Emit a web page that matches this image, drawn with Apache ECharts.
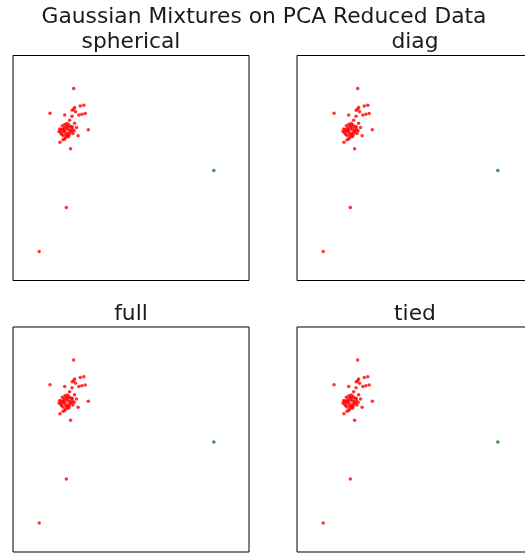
<!DOCTYPE html>
<html>
<head>
<meta charset="utf-8">
<script src="https://cdn.jsdelivr.net/npm/echarts@6/dist/echarts.min.js"></script>
<style>
  html, body { margin: 0; padding: 0; background: #fff; }
  #main { width: 525px; height: 554px; }
</style>
</head>
<body>
<div id="main"></div>
<script>
// PCA reduced points (first two components) and predicted component
var pc1 = [0.57, 1.00, 0.85, 0.61, 0.57, 0.51, 0.65, -0.43, 0.19, 0.79, 0.92, 1.06, 0.50, 0.40, 0.61, 0.69, 1.19, 0.76, -0.01, 0.12, 0.19, 0.35, 0.44, 0.26, -0.89, 6.51,
  0.09, 0.20, 0.30, 0.37, 0.45, 0.52, 0.59, -0.05, 0.02, 0.06, 0.12, 0.23, 0.31, 0.40, 0.48, 0.16, 0.26, 0.34, 0.43, 0.20, 0.09, 0.02, 0.26, 0.33, 0.51, 0.17, 0.38, 0.30, 0.54, -0.02, 0.13, 0.23];
var pc2 = [4.11, 3.40, 3.37, 3.30, 3.23, 3.19, 3.13, 3.06, 2.99, 2.99, 3.02, 3.05, 2.94, 2.77, 2.64, 2.46, 2.36, 2.11, 1.84, 1.94, 1.97, 2.07, 1.56, -0.92, -2.78, 0.64,
  2.53, 2.60, 2.63, 2.57, 2.49, 2.39, 2.32, 2.29, 2.24, 2.18, 2.12, 2.18, 2.21, 2.25, 2.29, 2.35, 2.43, 2.38, 2.35, 2.29, 2.39, 2.35, 2.53, 2.49, 2.49, 2.46, 2.15, 2.11, 2.21, 2.40, 2.29, 2.04];
var labels = [0, 0, 0, 0, 0, 0, 0, 0, 0, 0, 0, 0, 0, 0, 0, 0, 0, 0, 0, 0, 0, 0, 0, 0, 0, 1,
  0, 0, 0, 0, 0, 0, 0, 0, 0, 0, 0, 0, 0, 0, 0, 0, 0, 0, 0, 0, 0, 0, 0, 0, 0, 0, 0, 0, 0, 0, 0, 0];
var covTypes = ["spherical", "diag", "full", "tied"];
var colors = ["red", "green"];

var myChart = echarts.init(document.getElementById("main"));

var boxes = [
  { left: 13, top: 55.5 },
  { left: 297, top: 55.5 },
  { left: 13, top: 327 },
  { left: 297, top: 327 },
];
var boxW = 236, boxH = 225;
var font = { fontFamily: "DejaVu Sans", fontSize: 21.8, fontWeight: "normal", color: "#1a1a1a" };

var grids = [], xAxes = [], yAxes = [], series = [];
var titles = [{
  text: "Gaussian Mixtures on PCA Reduced Data",
  left: 259, top: 1, textAlign: "center",
  textStyle: font,
}];

covTypes.forEach(function (name, i) {
  var b = boxes[i];
  grids.push({
    left: b.left, top: b.top, width: boxW, height: boxH,
    outerBoundsMode: "none", containLabel: false,
    show: true, borderColor: "#000", borderWidth: 1, backgroundColor: "#fff",
  });
  xAxes.push({
    gridIndex: i, type: "value", min: -2, max: 8,
    axisLine: { show: false }, axisTick: { show: false }, axisLabel: { show: false }, splitLine: { show: false },
  });
  yAxes.push({
    gridIndex: i, type: "value", min: -4, max: 5.5,
    axisLine: { show: false }, axisTick: { show: false }, axisLabel: { show: false }, splitLine: { show: false },
  });
  titles.push({
    text: name,
    left: b.left + boxW / 2 - 5, top: b.top - 29, textAlign: "center",
    textStyle: font,
  });
  colors.forEach(function (c, k) {
    var pts = [];
    for (var j = 0; j < pc1.length; j++) {
      if (labels[j] === k) pts.push([pc1[j], pc2[j]]);
    }
    series.push({
      type: "scatter", xAxisIndex: i, yAxisIndex: i,
      symbolSize: 3.5, itemStyle: { color: c },
      data: pts, silent: true,
    });
  });
});

var option = {
  animation: false,
  backgroundColor: "#fff",
  title: titles,
  grid: grids,
  xAxis: xAxes,
  yAxis: yAxes,
  series: series,
};

myChart.setOption(option);
</script>
</body>
</html>
